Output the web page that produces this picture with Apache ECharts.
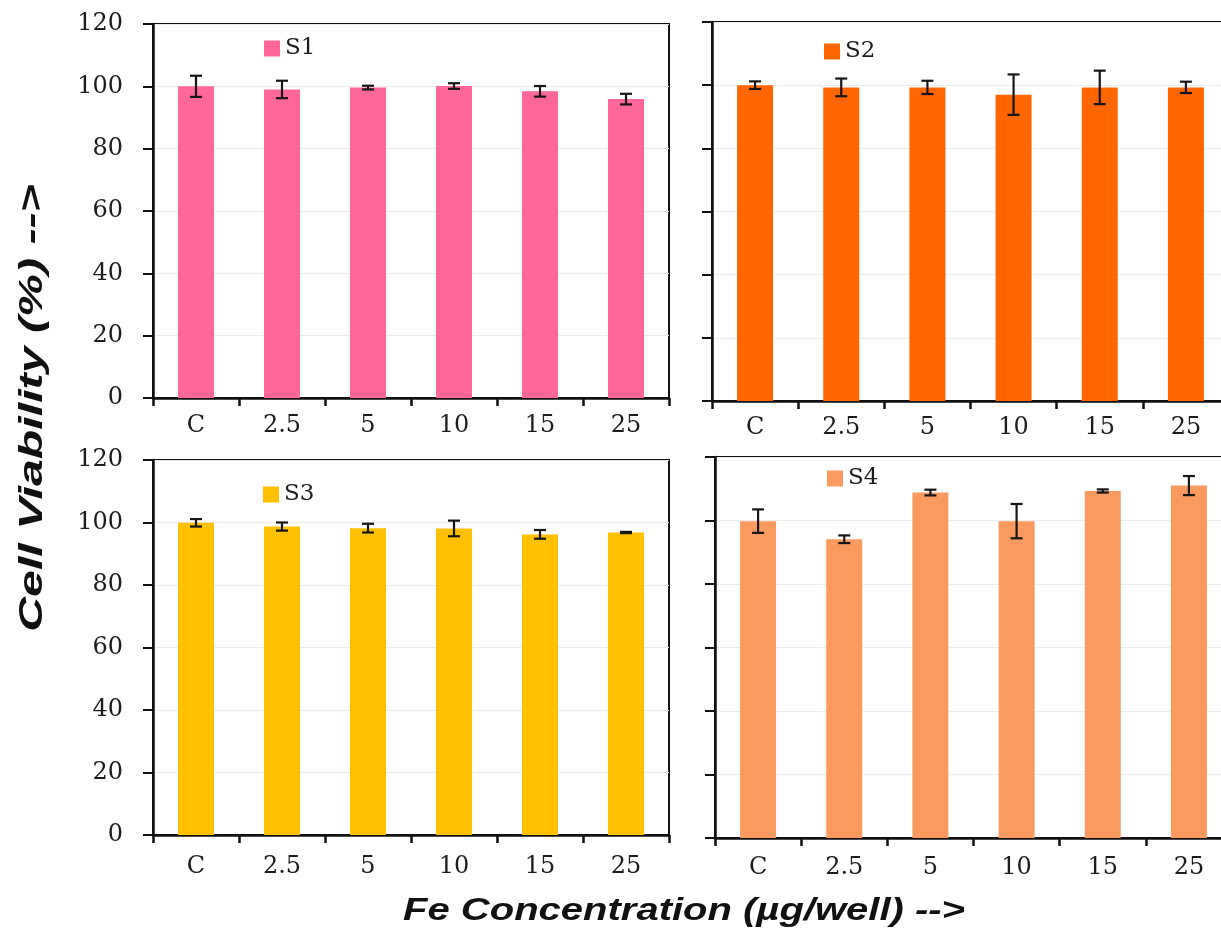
<!DOCTYPE html>
<html>
<head>
<meta charset="utf-8">
<script src="https://cdn.jsdelivr.net/npm/echarts@6/dist/echarts.min.js"></script>
<style>
  html, body { margin: 0; padding: 0; background: #fff; overflow: hidden; }
  #chart { width: 1221px; height: 937px; }
</style>
</head>
<body>
<div id="chart"></div>
<script>
// Fe concentration levels (µg/well)
const categories = ['C', '2.5', '5', '10', '15', '25'];

// Cell viability (%) and standard deviation for each sample
const s1Values = [100.0, 99.0, 99.6, 100.1, 98.4, 95.9];
const s1Errors = [3.4, 2.8, 0.6, 0.9, 1.7, 1.7];

const s2Values = [100.0, 99.3, 99.3, 97.0, 99.3, 99.3];
const s2Errors = [1.2, 2.8, 2.1, 6.4, 5.3, 1.8];

const s3Values = [99.9, 98.7, 98.2, 98.1, 96.2, 96.8];
const s3Errors = [1.2, 1.3, 1.4, 2.5, 1.4, 0.2];

const s4Values = [99.8, 94.1, 108.8, 99.8, 109.3, 111.0];
const s4Errors = [3.7, 1.2, 0.9, 5.4, 0.5, 3.0];

const sampleNames = ['S1', 'S2', 'S3', 'S4'];
const yMin = 0, yMax = 120, yStep = 20;

const TICK_FONT = '"DejaVu Serif", serif';
const TITLE_FONT = '"Liberation Sans", Arial, sans-serif';
const TEXT_COLOR = '#1c1c1c';

const panels = [
  { name: sampleNames[0], values: s1Values, errors: s1Errors, color: '#FF6699',
    grid: { left: 153, top: 24, width: 516, height: 374 }, legend: { left: 264, top: 37 },
    yLabels: true, xMargin: 16 },
  { name: sampleNames[1], values: s2Values, errors: s2Errors, color: '#FF6600',
    grid: { left: 712, top: 22, width: 517, height: 379 }, legend: { left: 824, top: 40 },
    yLabels: false, xMargin: 15 },
  { name: sampleNames[2], values: s3Values, errors: s3Errors, color: '#FFC000',
    grid: { left: 153, top: 460, width: 516, height: 375 }, legend: { left: 263, top: 483 },
    yLabels: true, xMargin: 20 },
  { name: sampleNames[3], values: s4Values, errors: s4Errors, color: '#FA9A5F',
    grid: { left: 715, top: 457, width: 517, height: 381 }, legend: { left: 827, top: 467 },
    yLabels: false, xMargin: 18 }
];

// Whisker with caps drawn at value ± sd on the panel's own axes
function errorBarRender(params, api) {
  const idx = api.value(0);
  const v = api.value(1);
  const e = api.value(2);
  const hi = api.coord([idx, v + e]);
  const lo = api.coord([idx, v - e]);
  const half = 6;
  const style = { stroke: '#161616', lineWidth: 2.2 };
  return {
    type: 'group',
    children: [
      { type: 'line', shape: { x1: hi[0], y1: hi[1], x2: lo[0], y2: lo[1] }, style },
      { type: 'line', shape: { x1: hi[0] - half, y1: hi[1], x2: hi[0] + half, y2: hi[1] }, style },
      { type: 'line', shape: { x1: lo[0] - half, y1: lo[1], x2: lo[0] + half, y2: lo[1] }, style }
    ]
  };
}

const grids = [], xAxes = [], yAxes = [], series = [], legends = [];

panels.forEach((p, i) => {
  grids.push(Object.assign({
    show: true, borderColor: '#111', borderWidth: 2, backgroundColor: '#fff',
    containLabel: false, outerBoundsMode: 'none'
  }, p.grid));

  xAxes.push({
    type: 'category', gridIndex: i, data: categories,
    axisLine: { show: true, lineStyle: { color: '#111', width: 2.5 } },
    axisTick: { show: true, length: 8, lineStyle: { color: '#111', width: 2.5 } },
    axisLabel: { show: true, margin: p.xMargin, fontFamily: TICK_FONT, fontSize: 24, color: TEXT_COLOR },
    splitLine: { show: false }
  });

  yAxes.push({
    type: 'value', gridIndex: i, min: yMin, max: yMax, interval: yStep,
    axisLine: { show: true, lineStyle: { color: '#111', width: 2.5 } },
    axisTick: { show: true, length: 10, lineStyle: { color: '#111', width: 2 } },
    axisLabel: { show: p.yLabels, margin: 30, fontFamily: TICK_FONT, fontSize: 24, color: TEXT_COLOR },
    splitLine: { show: true, lineStyle: { color: '#ececec', width: 1 } }
  });

  series.push({
    name: p.name, type: 'bar', xAxisIndex: i, yAxisIndex: i,
    data: p.values, barWidth: 36,
    itemStyle: { color: p.color },
    animation: false
  });

  series.push({
    name: p.name + ' SD', type: 'custom', xAxisIndex: i, yAxisIndex: i,
    renderItem: errorBarRender,
    encode: { x: 0, y: 1 },
    data: p.values.map((v, k) => [k, v, p.errors[k]]),
    z: 10, animation: false, silent: true
  });

  legends.push({
    data: [p.name], left: p.legend.left, top: p.legend.top,
    icon: 'rect', itemWidth: 16, itemHeight: 16, itemGap: 8,
    padding: 0,
    textStyle: { fontFamily: TICK_FONT, fontSize: 23, color: TEXT_COLOR },
    selectedMode: false
  });
});

const chart = echarts.init(document.getElementById('chart'), null, { renderer: 'canvas' });
chart.setOption({
  backgroundColor: '#fff',
  animation: false,
  grid: grids,
  xAxis: xAxes,
  yAxis: yAxes,
  legend: legends,
  series: series,
  graphic: [
    {
      type: 'text', x: 33, y: 408, rotation: Math.PI / 2,
      style: {
        text: 'Cell Viability (%) -->', font: 'italic bold 34px ' + TITLE_FONT,
        fill: '#111', align: 'center', verticalAlign: 'middle'
      },
      scaleX: 1.42
    },
    {
      type: 'text', x: 684, y: 911,
      style: {
        text: 'Fe Concentration (µg/well) -->', font: 'italic bold 32px ' + TITLE_FONT,
        fill: '#111', align: 'center', verticalAlign: 'middle'
      },
      scaleX: 1.25
    }
  ]
});
</script>
</body>
</html>
